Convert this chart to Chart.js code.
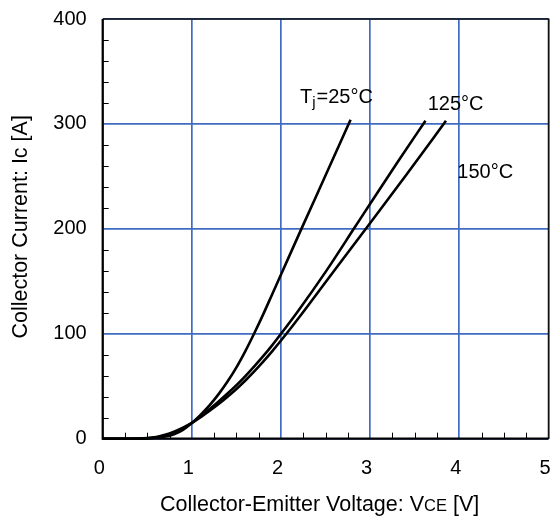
<!DOCTYPE html>
<html>
<head>
<meta charset="utf-8">
<script src="https://cdn.jsdelivr.net/npm/chart.js@4.4.1/dist/chart.umd.min.js"></script>
<style>
  html, body { margin: 0; padding: 0; background: #fff; }
  #wrap { width: 550px; height: 517px; }
</style>
</head>
<body>
<div id="wrap"><canvas id="c" width="550" height="517"></canvas></div>
<script>
// Output characteristics Ic vs VCE for three junction temperatures
const vce25  = [0, 0.3, 0.5, 0.6, 0.7, 0.8, 0.9, 1.0, 1.1, 1.2, 1.3, 1.4, 1.5, 1.6, 1.7, 1.8, 1.9, 2.0, 2.25, 2.5, 2.78];
const ic25   = [0, 0, 0.3, 0.9, 2.1, 4.3, 8.5, 15, 23, 32, 42.5, 54.5, 68, 83.5, 100.5, 118.5, 137.5, 156.5, 204, 251, 304];

const vce125 = [0, 0.3, 0.5, 0.6, 0.7, 0.8, 0.9, 1.0, 1.1, 1.2, 1.3, 1.4, 1.5, 1.6, 1.7, 1.8, 1.9, 2.0, 2.2, 2.5, 2.82, 3.0, 3.31, 3.62];
const ic125  = [0, 0, 0.4, 1.2, 2.9, 5.6, 9.7, 15, 21.4, 28.2, 35.4, 43, 51, 59.7, 69, 78.7, 89, 100, 122.7, 159, 200.5, 224, 264, 303];

const vce150 = [0, 0.3, 0.5, 0.6, 0.7, 0.8, 0.9, 1.0, 1.1, 1.2, 1.3, 1.4, 1.5, 1.6, 1.7, 1.8, 1.9, 2.0, 2.1, 2.3, 2.6, 2.96, 3.41, 3.85];
const ic150  = [0, 0, 0.6, 1.6, 3.7, 6.7, 10.5, 15, 20.6, 26.6, 33, 40, 47.4, 55.5, 64.2, 73.5, 83.3, 93.6, 104.3, 126.5, 160.5, 201, 252, 303];

const xTicks = [0, 1, 2, 3, 4, 5];
const yTicks = [0, 100, 200, 300, 400];
const tempLabels = ['25°C', '125°C', '150°C'];

const FONT = '"Liberation Sans", Arial, sans-serif';
const GRID_BLUE = '#3f6cc2';

const toPoints = (xs, ys) => xs.map((x, i) => ({ x, y: ys[i] }));

function curve(xs, ys) {
  return {
    data: toPoints(xs, ys),
    showLine: true,
    borderColor: '#000',
    borderWidth: 2.6,
    pointRadius: 0,
    cubicInterpolationMode: 'monotone',
    clip: 4
  };
}

// frame, inner minor ticks, axis titles and temperature labels
const decorations = {
  id: 'decorations',
  afterDraw(chart) {
    const { ctx, chartArea: a, scales: { x, y } } = chart;
    ctx.save();

    // minor ticks pointing into the plot
    ctx.strokeStyle = '#000';
    ctx.lineWidth = 1;
    ctx.beginPath();
    for (let v = 0.25; v < 5; v += 0.25) {
      if (Math.abs(v - Math.round(v)) < 1e-6) continue;
      const px = Math.round(x.getPixelForValue(v)) + 0.5;
      ctx.moveTo(px, a.bottom);
      ctx.lineTo(px, a.bottom - 6);
    }
    for (let v = 20; v < 400; v += 20) {
      if (v % 100 === 0) continue;
      const py = Math.round(y.getPixelForValue(v)) + 0.5;
      ctx.moveTo(a.left, py);
      ctx.lineTo(a.left + 6, py);
    }
    ctx.stroke();

    // top and right frame
    ctx.strokeStyle = '#111';
    ctx.lineWidth = 1.5;
    ctx.beginPath();
    ctx.moveTo(a.left, a.top);
    ctx.lineTo(a.right, a.top);
    ctx.lineTo(a.right, a.bottom);
    ctx.stroke();
    // left and bottom axes
    ctx.lineWidth = 2.2;
    ctx.strokeStyle = '#000';
    ctx.beginPath();
    ctx.moveTo(a.left, a.top);
    ctx.lineTo(a.left, a.bottom);
    ctx.lineTo(a.right, a.bottom);
    ctx.stroke();

    ctx.fillStyle = '#000';
    ctx.textBaseline = 'alphabetic';

    // x axis title with small-caps subscript
    const big = '21.5px ' + FONT, small = '16.5px ' + FONT;
    const parts = [['Collector-Emitter Voltage: V', big], ['CE', small], [' [V]', big]];
    let total = 0;
    parts.forEach(([t, f]) => { ctx.font = f; total += ctx.measureText(t).width; });
    let cx = (a.left + a.right) / 2 - 6 - total / 2;
    ctx.textAlign = 'left';
    parts.forEach(([t, f]) => { ctx.font = f; ctx.fillText(t, cx, 511); cx += ctx.measureText(t).width; });

    // y axis title
    ctx.save();
    ctx.translate(27, (a.top + a.bottom) / 2 - 2);
    ctx.rotate(-Math.PI / 2);
    ctx.font = big;
    ctx.textAlign = 'center';
    ctx.fillText('Collector Current: Ic [A]', 0, 0);
    ctx.restore();

    // temperature labels
    ctx.textAlign = 'left';
    const f20 = '20px ' + FONT;
    let tx = x.getPixelForValue(2.213), ty = y.getPixelForValue(319.5);
    ctx.font = f20; ctx.fillText('T', tx, ty); tx += ctx.measureText('T').width;
    ctx.font = '15px ' + FONT; ctx.fillText('j', tx, ty + 3.5); tx += ctx.measureText('j').width + 1;
    ctx.font = f20; ctx.fillText('=' + tempLabels[0], tx, ty);

    ctx.fillText(tempLabels[1], x.getPixelForValue(3.645), y.getPixelForValue(313.3));
    ctx.fillText(tempLabels[2], x.getPixelForValue(3.977), y.getPixelForValue(248.2));

    ctx.restore();
  }
};

new Chart(document.getElementById('c'), {
  type: 'scatter',
  data: {
    datasets: [curve(vce25, ic25), curve(vce125, ic125), curve(vce150, ic150)]
  },
  options: {
    responsive: false,
    animation: false,
    events: [],
    layout: { padding: { top: 19, right: 1.5, left: 0, bottom: 0 } },
    plugins: { legend: { display: false }, tooltip: { enabled: false } },
    scales: {
      x: {
        type: 'linear',
        min: xTicks[0],
        max: xTicks[xTicks.length - 1],
        afterBuildTicks: s => { s.ticks = xTicks.map(v => ({ value: v })); },
        ticks: { color: '#000', font: { family: FONT, size: 20 }, padding: 18, labelOffset: -3.5, maxRotation: 0 },
        grid: { color: GRID_BLUE, lineWidth: 1.7, drawTicks: false },
        border: { display: false },
        afterFit: s => { s.height = 78.3; s.paddingLeft = 0; s.paddingRight = 0; }
      },
      y: {
        type: 'linear',
        min: yTicks[0],
        max: yTicks[yTicks.length - 1],
        afterBuildTicks: s => { s.ticks = yTicks.map(v => ({ value: v })); },
        ticks: { color: '#000', font: { family: FONT, size: 20 }, padding: 16 },
        grid: { color: GRID_BLUE, lineWidth: 1.7, drawTicks: false },
        border: { display: false },
        afterFit: s => { s.width = 102.7; s.paddingTop = 0; s.paddingBottom = 0; }
      }
    }
  },
  plugins: [decorations]
});
</script>
</body>
</html>
